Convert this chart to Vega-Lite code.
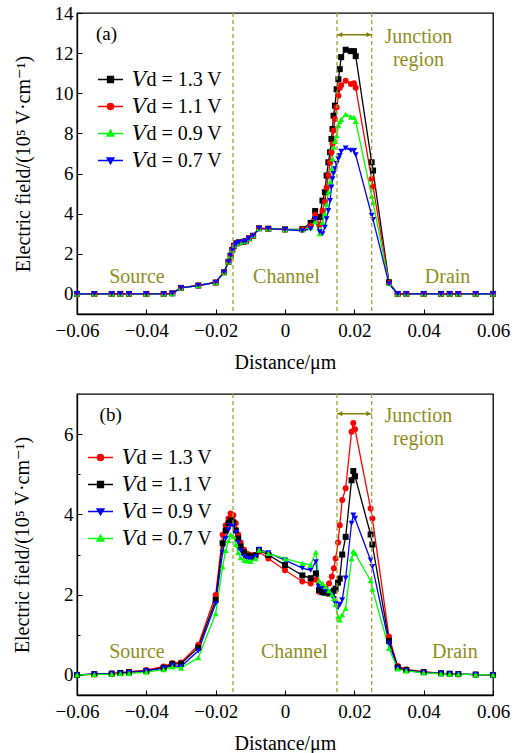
{
  "$schema": "https://vega.github.io/schema/vega-lite/v6.json",
  "padding": {"left": 11, "top": 3, "right": 3, "bottom": 3},
  "background": "white",
  "config": {
    "font": "Liberation Serif, DejaVu Serif, serif",
    "view": {"stroke": "black", "strokeWidth": 1.3},
    "axis": {"grid": false, "domainColor": "black", "domainWidth": 1.3, "tickColor": "black", "tickWidth": 1, "labelColor": "black", "titleColor": "black", "labelFont": "Liberation Serif, DejaVu Serif, serif", "titleFont": "Liberation Serif, DejaVu Serif, serif", "labelFontSize": 19, "titleFontSize": 20, "titleFontWeight": "normal", "labelOverlap": false, "labelFlush": false},
    "legend": {"labelFont": "Liberation Serif, DejaVu Serif, serif", "labelFontSize": 20, "labelColor": "black", "padding": 0, "rowPadding": 3, "labelOffset": 8, "symbolSize": 625, "symbolStrokeWidth": 1.3, "symbolOpacity": 1, "orient": "none"},
    "text": {"font": "Liberation Serif, DejaVu Serif, serif"}
  },
  "datasets": {
    "a": [
      {"x":-0.06,"y":0,"s":"1.3"},{"x":-0.055,"y":0,"s":"1.3"},{"x":-0.05,"y":0,"s":"1.3"},{"x":-0.0475,"y":0,"s":"1.3"},{"x":-0.045,"y":0,"s":"1.3"},{"x":-0.04,"y":0,"s":"1.3"},{"x":-0.035,"y":0,"s":"1.3"},{"x":-0.0325,"y":0.03,"s":"1.3"},{"x":-0.03,"y":0.3,"s":"1.3"},{"x":-0.025,"y":0.42,"s":"1.3"},{"x":-0.02,"y":0.57,"s":"1.3"},{"x":-0.0176,"y":1.08,"s":"1.3"},{"x":-0.0163,"y":1.6,"s":"1.3"},{"x":-0.0157,"y":1.91,"s":"1.3"},{"x":-0.0152,"y":2.2,"s":"1.3"},{"x":-0.0147,"y":2.4,"s":"1.3"},{"x":-0.014,"y":2.52,"s":"1.3"},{"x":-0.0133,"y":2.57,"s":"1.3"},{"x":-0.012,"y":2.6,"s":"1.3"},{"x":-0.0113,"y":2.63,"s":"1.3"},{"x":-0.0104,"y":2.77,"s":"1.3"},{"x":-0.0092,"y":2.9,"s":"1.3"},{"x":-0.0075,"y":3.27,"s":"1.3"},{"x":-0.0048,"y":3.25,"s":"1.3"},{"x":0,"y":3.22,"s":"1.3"},
      {"x":0.005,"y":3.23,"s":"1.3"},{"x":0.0074,"y":3.54,"s":"1.3"},{"x":0.0087,"y":4.13,"s":"1.3"},{"x":0.01,"y":3.83,"s":"1.3"},{"x":0.0108,"y":4.65,"s":"1.3"},{"x":0.0115,"y":5.07,"s":"1.3"},{"x":0.012,"y":5.9,"s":"1.3"},{"x":0.0125,"y":6.56,"s":"1.3"},{"x":0.013,"y":7.06,"s":"1.3"},{"x":0.0134,"y":7.72,"s":"1.3"},{"x":0.0137,"y":8.22,"s":"1.3"},{"x":0.014,"y":8.88,"s":"1.3"},{"x":0.0144,"y":9.38,"s":"1.3"},{"x":0.0149,"y":10.2,"s":"1.3"},{"x":0.0154,"y":10.7,"s":"1.3"},{"x":0.0158,"y":11.2,"s":"1.3"},{"x":0.0162,"y":11.8,"s":"1.3"},{"x":0.0175,"y":12.17,"s":"1.3"},{"x":0.019,"y":12.1,"s":"1.3"},{"x":0.0199,"y":12.1,"s":"1.3"},{"x":0.0204,"y":11.85,"s":"1.3"},{"x":0.025,"y":6.56,"s":"1.3"},{"x":0.0254,"y":6.15,"s":"1.3"},{"x":0.03,"y":0.58,"s":"1.3"},
      {"x":0.0325,"y":0,"s":"1.3"},{"x":0.035,"y":0,"s":"1.3"},{"x":0.04,"y":0,"s":"1.3"},{"x":0.045,"y":0,"s":"1.3"},{"x":0.0475,"y":0,"s":"1.3"},{"x":0.05,"y":0,"s":"1.3"},{"x":0.055,"y":0,"s":"1.3"},{"x":0.06,"y":0,"s":"1.3"},

      {"x":-0.06,"y":0,"s":"1.1"},{"x":-0.055,"y":0,"s":"1.1"},{"x":-0.05,"y":0,"s":"1.1"},{"x":-0.0475,"y":0,"s":"1.1"},{"x":-0.045,"y":0,"s":"1.1"},{"x":-0.04,"y":0,"s":"1.1"},{"x":-0.035,"y":0,"s":"1.1"},{"x":-0.0325,"y":0.03,"s":"1.1"},{"x":-0.03,"y":0.3,"s":"1.1"},{"x":-0.025,"y":0.42,"s":"1.1"},{"x":-0.02,"y":0.57,"s":"1.1"},{"x":-0.0176,"y":1.08,"s":"1.1"},{"x":-0.0163,"y":1.6,"s":"1.1"},{"x":-0.0157,"y":1.91,"s":"1.1"},{"x":-0.0152,"y":2.2,"s":"1.1"},{"x":-0.0147,"y":2.4,"s":"1.1"},{"x":-0.014,"y":2.52,"s":"1.1"},{"x":-0.0133,"y":2.57,"s":"1.1"},{"x":-0.012,"y":2.6,"s":"1.1"},{"x":-0.0113,"y":2.63,"s":"1.1"},{"x":-0.0104,"y":2.77,"s":"1.1"},{"x":-0.0092,"y":2.9,"s":"1.1"},{"x":-0.0075,"y":3.27,"s":"1.1"},{"x":-0.0048,"y":3.25,"s":"1.1"},{"x":0,"y":3.2,"s":"1.1"},
      {"x":0.005,"y":3.2,"s":"1.1"},{"x":0.0074,"y":3.4,"s":"1.1"},{"x":0.0087,"y":3.94,"s":"1.1"},{"x":0.01,"y":3.45,"s":"1.1"},{"x":0.0108,"y":4.15,"s":"1.1"},{"x":0.0115,"y":4.6,"s":"1.1"},{"x":0.012,"y":5.3,"s":"1.1"},{"x":0.0125,"y":5.9,"s":"1.1"},{"x":0.013,"y":6.56,"s":"1.1"},{"x":0.0134,"y":7.06,"s":"1.1"},{"x":0.0137,"y":7.47,"s":"1.1"},{"x":0.014,"y":8.14,"s":"1.1"},{"x":0.0144,"y":8.72,"s":"1.1"},{"x":0.0149,"y":9.3,"s":"1.1"},{"x":0.0154,"y":9.88,"s":"1.1"},{"x":0.0158,"y":10.26,"s":"1.1"},{"x":0.0162,"y":10.4,"s":"1.1"},{"x":0.0175,"y":10.62,"s":"1.1"},{"x":0.019,"y":10.46,"s":"1.1"},{"x":0.0199,"y":10.5,"s":"1.1"},{"x":0.0204,"y":10.27,"s":"1.1"},{"x":0.025,"y":5.73,"s":"1.1"},{"x":0.0254,"y":5.35,"s":"1.1"},{"x":0.03,"y":0.55,"s":"1.1"},
      {"x":0.0325,"y":0,"s":"1.1"},{"x":0.035,"y":0,"s":"1.1"},{"x":0.04,"y":0,"s":"1.1"},{"x":0.045,"y":0,"s":"1.1"},{"x":0.0475,"y":0,"s":"1.1"},{"x":0.05,"y":0,"s":"1.1"},{"x":0.055,"y":0,"s":"1.1"},{"x":0.06,"y":0,"s":"1.1"},

      {"x":-0.06,"y":0,"s":"0.9"},{"x":-0.055,"y":0,"s":"0.9"},{"x":-0.05,"y":0,"s":"0.9"},{"x":-0.0475,"y":0,"s":"0.9"},{"x":-0.045,"y":0,"s":"0.9"},{"x":-0.04,"y":0,"s":"0.9"},{"x":-0.035,"y":0,"s":"0.9"},{"x":-0.0325,"y":0.03,"s":"0.9"},{"x":-0.03,"y":0.3,"s":"0.9"},{"x":-0.025,"y":0.42,"s":"0.9"},{"x":-0.02,"y":0.57,"s":"0.9"},{"x":-0.0176,"y":1.08,"s":"0.9"},{"x":-0.0163,"y":1.6,"s":"0.9"},{"x":-0.0157,"y":1.91,"s":"0.9"},{"x":-0.0152,"y":2.2,"s":"0.9"},{"x":-0.0147,"y":2.4,"s":"0.9"},{"x":-0.014,"y":2.52,"s":"0.9"},{"x":-0.0133,"y":2.57,"s":"0.9"},{"x":-0.012,"y":2.6,"s":"0.9"},{"x":-0.0113,"y":2.63,"s":"0.9"},{"x":-0.0104,"y":2.77,"s":"0.9"},{"x":-0.0092,"y":2.9,"s":"0.9"},{"x":-0.0075,"y":3.27,"s":"0.9"},{"x":-0.0048,"y":3.25,"s":"0.9"},{"x":0,"y":3.2,"s":"0.9"},
      {"x":0.005,"y":3.2,"s":"0.9"},{"x":0.0074,"y":3.3,"s":"0.9"},{"x":0.0087,"y":3.6,"s":"0.9"},{"x":0.01,"y":3.0,"s":"0.9"},{"x":0.0108,"y":3.57,"s":"0.9"},{"x":0.0115,"y":3.99,"s":"0.9"},{"x":0.012,"y":4.48,"s":"0.9"},{"x":0.0125,"y":5.07,"s":"0.9"},{"x":0.013,"y":5.57,"s":"0.9"},{"x":0.0134,"y":6.23,"s":"0.9"},{"x":0.0137,"y":6.73,"s":"0.9"},{"x":0.014,"y":7.31,"s":"0.9"},{"x":0.0144,"y":7.6,"s":"0.9"},{"x":0.0149,"y":7.89,"s":"0.9"},{"x":0.0154,"y":8.39,"s":"0.9"},{"x":0.0158,"y":8.59,"s":"0.9"},{"x":0.0162,"y":8.7,"s":"0.9"},{"x":0.0175,"y":8.95,"s":"0.9"},{"x":0.019,"y":8.82,"s":"0.9"},{"x":0.0199,"y":8.8,"s":"0.9"},{"x":0.0204,"y":8.6,"s":"0.9"},{"x":0.025,"y":4.87,"s":"0.9"},{"x":0.0254,"y":4.57,"s":"0.9"},{"x":0.03,"y":0.52,"s":"0.9"},
      {"x":0.0325,"y":0,"s":"0.9"},{"x":0.035,"y":0,"s":"0.9"},{"x":0.04,"y":0,"s":"0.9"},{"x":0.045,"y":0,"s":"0.9"},{"x":0.0475,"y":0,"s":"0.9"},{"x":0.05,"y":0,"s":"0.9"},{"x":0.055,"y":0,"s":"0.9"},{"x":0.06,"y":0,"s":"0.9"},

      {"x":-0.06,"y":0,"s":"0.7"},{"x":-0.055,"y":0,"s":"0.7"},{"x":-0.05,"y":0,"s":"0.7"},{"x":-0.0475,"y":0,"s":"0.7"},{"x":-0.045,"y":0,"s":"0.7"},{"x":-0.04,"y":0,"s":"0.7"},{"x":-0.035,"y":0,"s":"0.7"},{"x":-0.0325,"y":0.03,"s":"0.7"},{"x":-0.03,"y":0.3,"s":"0.7"},{"x":-0.025,"y":0.42,"s":"0.7"},{"x":-0.02,"y":0.57,"s":"0.7"},{"x":-0.0176,"y":1.08,"s":"0.7"},{"x":-0.0163,"y":1.6,"s":"0.7"},{"x":-0.0157,"y":1.91,"s":"0.7"},{"x":-0.0152,"y":2.2,"s":"0.7"},{"x":-0.0147,"y":2.4,"s":"0.7"},{"x":-0.014,"y":2.52,"s":"0.7"},{"x":-0.0133,"y":2.57,"s":"0.7"},{"x":-0.012,"y":2.6,"s":"0.7"},{"x":-0.0113,"y":2.63,"s":"0.7"},{"x":-0.0104,"y":2.77,"s":"0.7"},{"x":-0.0092,"y":2.9,"s":"0.7"},{"x":-0.0075,"y":3.27,"s":"0.7"},{"x":-0.0048,"y":3.25,"s":"0.7"},{"x":0,"y":3.2,"s":"0.7"},
      {"x":0.005,"y":3.15,"s":"0.7"},{"x":0.0074,"y":3.24,"s":"0.7"},{"x":0.0087,"y":3.74,"s":"0.7"},{"x":0.01,"y":3.1,"s":"0.7"},{"x":0.0108,"y":3.0,"s":"0.7"},{"x":0.0115,"y":3.32,"s":"0.7"},{"x":0.012,"y":3.74,"s":"0.7"},{"x":0.0125,"y":4.15,"s":"0.7"},{"x":0.013,"y":4.65,"s":"0.7"},{"x":0.0134,"y":5.32,"s":"0.7"},{"x":0.0137,"y":5.73,"s":"0.7"},{"x":0.014,"y":6.0,"s":"0.7"},{"x":0.0144,"y":6.23,"s":"0.7"},{"x":0.0149,"y":6.5,"s":"0.7"},{"x":0.0154,"y":6.73,"s":"0.7"},{"x":0.0158,"y":6.89,"s":"0.7"},{"x":0.0162,"y":7.1,"s":"0.7"},{"x":0.0175,"y":7.27,"s":"0.7"},{"x":0.019,"y":7.15,"s":"0.7"},{"x":0.0199,"y":7.14,"s":"0.7"},{"x":0.0204,"y":6.93,"s":"0.7"},{"x":0.025,"y":3.92,"s":"0.7"},{"x":0.0254,"y":3.7,"s":"0.7"},{"x":0.03,"y":0.5,"s":"0.7"},
      {"x":0.0325,"y":0,"s":"0.7"},{"x":0.035,"y":0,"s":"0.7"},{"x":0.04,"y":0,"s":"0.7"},{"x":0.045,"y":0,"s":"0.7"},{"x":0.0475,"y":0,"s":"0.7"},{"x":0.05,"y":0,"s":"0.7"},{"x":0.055,"y":0,"s":"0.7"},{"x":0.06,"y":0,"s":"0.7"}
    ],
    "b": [
      {"x":-0.06,"y":0,"s":"1.3"},{"x":-0.055,"y":0.02,"s":"1.3"},{"x":-0.05,"y":0.04,"s":"1.3"},{"x":-0.0475,"y":0.05,"s":"1.3"},{"x":-0.045,"y":0.08,"s":"1.3"},{"x":-0.04,"y":0.12,"s":"1.3"},{"x":-0.035,"y":0.21,"s":"1.3"},{"x":-0.0325,"y":0.3,"s":"1.3"},{"x":-0.03,"y":0.31,"s":"1.3"},{"x":-0.025,"y":0.75,"s":"1.3"},{"x":-0.02,"y":1.99,"s":"1.3"},{"x":-0.018,"y":3.49,"s":"1.3"},{"x":-0.0171,"y":3.73,"s":"1.3"},{"x":-0.0163,"y":3.9,"s":"1.3"},{"x":-0.0157,"y":4.02,"s":"1.3"},{"x":-0.0149,"y":3.98,"s":"1.3"},{"x":-0.0142,"y":3.78,"s":"1.3"},{"x":-0.0135,"y":3.5,"s":"1.3"},{"x":-0.0128,"y":3.3,"s":"1.3"},{"x":-0.0118,"y":3.12,"s":"1.3"},{"x":-0.0109,"y":3.02,"s":"1.3"},{"x":-0.0099,"y":2.99,"s":"1.3"},{"x":-0.0085,"y":2.99,"s":"1.3"},{"x":-0.0075,"y":3.07,"s":"1.3"},{"x":-0.0048,"y":2.9,"s":"1.3"},{"x":0,"y":2.61,"s":"1.3"},{"x":0.005,"y":2.33,"s":"1.3"},{"x":0.0074,"y":2.28,"s":"1.3"},{"x":0.0089,"y":2.37,"s":"1.3"},{"x":0.0098,"y":2.07,"s":"1.3"},{"x":0.0108,"y":2.06,"s":"1.3"},{"x":0.0117,"y":2.1,"s":"1.3"},{"x":0.0127,"y":2.28,"s":"1.3"},{"x":0.0135,"y":2.45,"s":"1.3"},{"x":0.0141,"y":2.66,"s":"1.3"},{"x":0.0146,"y":2.9,"s":"1.3"},{"x":0.0153,"y":3.3,"s":"1.3"},{"x":0.0158,"y":3.73,"s":"1.3"},{"x":0.0165,"y":4.36,"s":"1.3"},{"x":0.0175,"y":4.65,"s":"1.3"},{"x":0.0192,"y":6.06,"s":"1.3"},{"x":0.0197,"y":6.28,"s":"1.3"},{"x":0.0202,"y":6.12,"s":"1.3"},{"x":0.0247,"y":4.15,"s":"1.3"},{"x":0.0252,"y":3.9,"s":"1.3"},{"x":0.03,"y":0.95,"s":"1.3"},{"x":0.0325,"y":0.22,"s":"1.3"},{"x":0.035,"y":0.14,"s":"1.3"},{"x":0.04,"y":0.08,"s":"1.3"},{"x":0.045,"y":0.04,"s":"1.3"},{"x":0.0475,"y":0.03,"s":"1.3"},{"x":0.05,"y":0.02,"s":"1.3"},{"x":0.055,"y":0.01,"s":"1.3"},{"x":0.06,"y":0,"s":"1.3"},

      {"x":-0.06,"y":0,"s":"1.1"},{"x":-0.055,"y":0.02,"s":"1.1"},{"x":-0.05,"y":0.03,"s":"1.1"},{"x":-0.0475,"y":0.05,"s":"1.1"},{"x":-0.045,"y":0.07,"s":"1.1"},{"x":-0.04,"y":0.1,"s":"1.1"},{"x":-0.035,"y":0.18,"s":"1.1"},{"x":-0.0325,"y":0.27,"s":"1.1"},{"x":-0.03,"y":0.28,"s":"1.1"},{"x":-0.025,"y":0.68,"s":"1.1"},{"x":-0.02,"y":1.87,"s":"1.1"},{"x":-0.018,"y":3.28,"s":"1.1"},{"x":-0.0171,"y":3.6,"s":"1.1"},{"x":-0.0163,"y":3.78,"s":"1.1"},{"x":-0.0157,"y":3.85,"s":"1.1"},{"x":-0.0149,"y":3.8,"s":"1.1"},{"x":-0.0142,"y":3.6,"s":"1.1"},{"x":-0.0135,"y":3.4,"s":"1.1"},{"x":-0.0128,"y":3.2,"s":"1.1"},{"x":-0.0118,"y":3.05,"s":"1.1"},{"x":-0.0109,"y":2.97,"s":"1.1"},{"x":-0.0099,"y":2.95,"s":"1.1"},{"x":-0.0085,"y":2.98,"s":"1.1"},{"x":-0.0075,"y":3.11,"s":"1.1"},{"x":-0.0048,"y":2.99,"s":"1.1"},{"x":0,"y":2.74,"s":"1.1"},{"x":0.005,"y":2.48,"s":"1.1"},{"x":0.0074,"y":2.41,"s":"1.1"},{"x":0.0089,"y":2.53,"s":"1.1"},{"x":0.0098,"y":2.12,"s":"1.1"},{"x":0.0108,"y":2.06,"s":"1.1"},{"x":0.0117,"y":2.05,"s":"1.1"},{"x":0.0127,"y":2.03,"s":"1.1"},{"x":0.0135,"y":2.04,"s":"1.1"},{"x":0.0141,"y":2.1,"s":"1.1"},{"x":0.0146,"y":2.15,"s":"1.1"},{"x":0.0153,"y":2.3,"s":"1.1"},{"x":0.0158,"y":2.4,"s":"1.1"},{"x":0.0165,"y":3.0,"s":"1.1"},{"x":0.0175,"y":3.44,"s":"1.1"},{"x":0.0192,"y":4.85,"s":"1.1"},{"x":0.0197,"y":5.08,"s":"1.1"},{"x":0.0202,"y":4.95,"s":"1.1"},{"x":0.0247,"y":3.5,"s":"1.1"},{"x":0.0252,"y":3.25,"s":"1.1"},{"x":0.03,"y":0.85,"s":"1.1"},{"x":0.0325,"y":0.19,"s":"1.1"},{"x":0.035,"y":0.12,"s":"1.1"},{"x":0.04,"y":0.07,"s":"1.1"},{"x":0.045,"y":0.04,"s":"1.1"},{"x":0.0475,"y":0.03,"s":"1.1"},{"x":0.05,"y":0.02,"s":"1.1"},{"x":0.055,"y":0.01,"s":"1.1"},{"x":0.06,"y":0,"s":"1.1"},

      {"x":-0.06,"y":0,"s":"0.9"},{"x":-0.055,"y":0.02,"s":"0.9"},{"x":-0.05,"y":0.03,"s":"0.9"},{"x":-0.0475,"y":0.04,"s":"0.9"},{"x":-0.045,"y":0.06,"s":"0.9"},{"x":-0.04,"y":0.1,"s":"0.9"},{"x":-0.035,"y":0.17,"s":"0.9"},{"x":-0.0325,"y":0.23,"s":"0.9"},{"x":-0.03,"y":0.21,"s":"0.9"},{"x":-0.025,"y":0.6,"s":"0.9"},{"x":-0.02,"y":1.78,"s":"0.9"},{"x":-0.018,"y":3.05,"s":"0.9"},{"x":-0.0171,"y":3.4,"s":"0.9"},{"x":-0.0163,"y":3.61,"s":"0.9"},{"x":-0.0157,"y":3.73,"s":"0.9"},{"x":-0.0149,"y":3.72,"s":"0.9"},{"x":-0.0142,"y":3.55,"s":"0.9"},{"x":-0.0135,"y":3.3,"s":"0.9"},{"x":-0.0128,"y":3.1,"s":"0.9"},{"x":-0.0118,"y":2.95,"s":"0.9"},{"x":-0.0109,"y":2.9,"s":"0.9"},{"x":-0.0099,"y":2.9,"s":"0.9"},{"x":-0.0085,"y":2.95,"s":"0.9"},{"x":-0.0075,"y":3.13,"s":"0.9"},{"x":-0.0048,"y":3.04,"s":"0.9"},{"x":0,"y":2.86,"s":"0.9"},{"x":0.005,"y":2.66,"s":"0.9"},{"x":0.0074,"y":2.61,"s":"0.9"},{"x":0.0089,"y":2.82,"s":"0.9"},{"x":0.0098,"y":2.2,"s":"0.9"},{"x":0.0108,"y":2.16,"s":"0.9"},{"x":0.0117,"y":2.12,"s":"0.9"},{"x":0.0127,"y":2.07,"s":"0.9"},{"x":0.0135,"y":1.98,"s":"0.9"},{"x":0.0141,"y":1.9,"s":"0.9"},{"x":0.0146,"y":1.78,"s":"0.9"},{"x":0.0153,"y":1.68,"s":"0.9"},{"x":0.0158,"y":1.75,"s":"0.9"},{"x":0.0165,"y":1.87,"s":"0.9"},{"x":0.0175,"y":2.41,"s":"0.9"},{"x":0.0192,"y":3.78,"s":"0.9"},{"x":0.0197,"y":3.98,"s":"0.9"},{"x":0.0202,"y":3.9,"s":"0.9"},{"x":0.0247,"y":2.86,"s":"0.9"},{"x":0.0252,"y":2.7,"s":"0.9"},{"x":0.03,"y":0.79,"s":"0.9"},{"x":0.0325,"y":0.17,"s":"0.9"},{"x":0.035,"y":0.11,"s":"0.9"},{"x":0.04,"y":0.06,"s":"0.9"},{"x":0.045,"y":0.04,"s":"0.9"},{"x":0.0475,"y":0.03,"s":"0.9"},{"x":0.05,"y":0.02,"s":"0.9"},{"x":0.055,"y":0.01,"s":"0.9"},{"x":0.06,"y":0,"s":"0.9"},

      {"x":-0.06,"y":0,"s":"0.7"},{"x":-0.055,"y":0.01,"s":"0.7"},{"x":-0.05,"y":0.02,"s":"0.7"},{"x":-0.0475,"y":0.03,"s":"0.7"},{"x":-0.045,"y":0.04,"s":"0.7"},{"x":-0.04,"y":0.07,"s":"0.7"},{"x":-0.035,"y":0.13,"s":"0.7"},{"x":-0.0325,"y":0.2,"s":"0.7"},{"x":-0.03,"y":0.17,"s":"0.7"},{"x":-0.025,"y":0.43,"s":"0.7"},{"x":-0.02,"y":1.53,"s":"0.7"},{"x":-0.018,"y":2.7,"s":"0.7"},{"x":-0.0171,"y":3.1,"s":"0.7"},{"x":-0.0163,"y":3.35,"s":"0.7"},{"x":-0.0157,"y":3.5,"s":"0.7"},{"x":-0.0149,"y":3.45,"s":"0.7"},{"x":-0.0142,"y":3.25,"s":"0.7"},{"x":-0.0135,"y":3.05,"s":"0.7"},{"x":-0.0128,"y":2.92,"s":"0.7"},{"x":-0.0118,"y":2.86,"s":"0.7"},{"x":-0.0109,"y":2.84,"s":"0.7"},{"x":-0.0099,"y":2.83,"s":"0.7"},{"x":-0.0085,"y":2.9,"s":"0.7"},{"x":-0.0075,"y":3.11,"s":"0.7"},{"x":-0.0048,"y":3.03,"s":"0.7"},{"x":0,"y":2.9,"s":"0.7"},{"x":0.005,"y":2.78,"s":"0.7"},{"x":0.0074,"y":2.74,"s":"0.7"},{"x":0.0089,"y":3.06,"s":"0.7"},{"x":0.0098,"y":2.35,"s":"0.7"},{"x":0.0108,"y":2.28,"s":"0.7"},{"x":0.0117,"y":2.2,"s":"0.7"},{"x":0.0127,"y":2.1,"s":"0.7"},{"x":0.0135,"y":2.0,"s":"0.7"},{"x":0.0141,"y":1.9,"s":"0.7"},{"x":0.0146,"y":1.75,"s":"0.7"},{"x":0.0153,"y":1.45,"s":"0.7"},{"x":0.0158,"y":1.37,"s":"0.7"},{"x":0.0165,"y":1.5,"s":"0.7"},{"x":0.0175,"y":1.66,"s":"0.7"},{"x":0.0192,"y":2.9,"s":"0.7"},{"x":0.0197,"y":3.08,"s":"0.7"},{"x":0.0202,"y":3.03,"s":"0.7"},{"x":0.0247,"y":2.35,"s":"0.7"},{"x":0.0252,"y":2.14,"s":"0.7"},{"x":0.03,"y":0.66,"s":"0.7"},{"x":0.0325,"y":0.15,"s":"0.7"},{"x":0.035,"y":0.1,"s":"0.7"},{"x":0.04,"y":0.05,"s":"0.7"},{"x":0.045,"y":0.03,"s":"0.7"},{"x":0.0475,"y":0.02,"s":"0.7"},{"x":0.05,"y":0.02,"s":"0.7"},{"x":0.055,"y":0.01,"s":"0.7"},{"x":0.06,"y":0,"s":"0.7"}
    ],
    "bounds": [{"x": -0.015}, {"x": 0.015}, {"x": 0.025}],
    "txtA": [
      {"x": -0.0427, "y": 0.85, "t": "Source"},
      {"x": 0.0004, "y": 0.85, "t": "Channel"},
      {"x": 0.0469, "y": 0.85, "t": "Drain"},
      {"x": 0.0385, "y": 12.8, "t": "Junction"},
      {"x": 0.0385, "y": 11.67, "t": "region"}
    ],
    "txtB": [
      {"x": -0.0427, "y": 0.56, "t": "Source"},
      {"x": 0.0027, "y": 0.56, "t": "Channel"},
      {"x": 0.049, "y": 0.56, "t": "Drain"},
      {"x": 0.0385, "y": 6.45, "t": "Junction"},
      {"x": 0.0385, "y": 5.89, "t": "region"}
    ],
    "one": [{}]
  },
  "spacing": 19,
  "resolve": {"scale": {"color": "independent", "shape": "independent", "stroke": "independent"}, "legend": {"color": "independent", "shape": "independent", "stroke": "independent"}},
  "vconcat": [
    {
      "width": 416,
      "height": 301,
      "layer": [
        {
          "data": {"name": "a"},
          "mark": {"type": "line", "strokeWidth": 1.3},
          "encoding": {
            "x": {"field": "x", "type": "quantitative", "scale": {"domain": [-0.06, 0.06], "nice": false, "zero": false},
              "axis": {"title": "Distance/μm", "values": [-0.06, -0.05, -0.04, -0.03, -0.02, -0.01, 0, 0.01, 0.02, 0.03, 0.04, 0.05, 0.06],
                "labelExpr": "abs(round(datum.value*100)) % 2 === 0 ? (abs(datum.value) < 1e-9 ? '0' : format(datum.value, '.2f')) : ''",
                "tickSize": {"condition": {"test": "abs(round(datum.value*100)) % 2 === 0", "value": -5}, "value": -3},
                "labelFont": "Liberation Serif, DejaVu Serif, serif", "titleFont": "Liberation Serif, DejaVu Serif, serif",
                "labelPadding": 12, "titlePadding": 12}},
            "y": {"field": "y", "type": "quantitative", "scale": {"domain": [-1, 14], "nice": false, "zero": false},
              "axis": {"title": "Electric field/(10⁵ V·cm⁻¹)", "values": [0, 1, 2, 3, 4, 5, 6, 7, 8, 9, 10, 11, 12, 13, 14],
                "labelExpr": "datum.value % 2 === 0 ? datum.label : ''",
                "tickSize": {"condition": {"test": "datum.value % 2 === 0", "value": -5}, "value": -3},
                "labelFont": "Liberation Serif, DejaVu Serif, serif", "titleFont": "Liberation Serif, DejaVu Serif, serif",
                "labelPadding": 9, "titlePadding": 21}},
            "color": {"field": "s", "type": "nominal", "scale": {"domain": ["1.3", "1.1", "0.9", "0.7"], "range": ["#000000", "#ff0000", "#00ff00", "#0000ff"]},
              "legend": {"title": null, "orient": "none", "legendX": 20, "legendY": 53, "labelExpr": "'𝑉d = ' + datum.label + ' V'"}}
          }
        },
        {
          "data": {"name": "a"},
          "transform": [{"filter": "datum.s === '1.3'"}],
          "mark": {"type": "point", "shape": "square", "filled": true, "size": 36, "opacity": 1},
          "encoding": {"x": {"field": "x", "type": "quantitative"}, "y": {"field": "y", "type": "quantitative"},
            "color": {"field": "s", "type": "nominal", "scale": {"domain": ["1.3", "1.1", "0.9", "0.7"], "range": ["#000000", "#ff0000", "#00ff00", "#0000ff"]}}}
        },
        {
          "data": {"name": "a"},
          "transform": [{"filter": "datum.s === '1.1'"}],
          "mark": {"type": "point", "shape": "circle", "filled": true, "size": 36, "opacity": 1},
          "encoding": {"x": {"field": "x", "type": "quantitative"}, "y": {"field": "y", "type": "quantitative"},
            "color": {"field": "s", "type": "nominal", "scale": {"domain": ["1.3", "1.1", "0.9", "0.7"], "range": ["#000000", "#ff0000", "#00ff00", "#0000ff"]}}}
        },
        {
          "data": {"name": "a"},
          "transform": [{"filter": "datum.s === '0.9'"}],
          "mark": {"type": "point", "shape": "triangle-up", "filled": true, "size": 36, "opacity": 1},
          "encoding": {"x": {"field": "x", "type": "quantitative"}, "y": {"field": "y", "type": "quantitative"},
            "color": {"field": "s", "type": "nominal", "scale": {"domain": ["1.3", "1.1", "0.9", "0.7"], "range": ["#000000", "#ff0000", "#00ff00", "#0000ff"]}}}
        },
        {
          "data": {"name": "a"},
          "transform": [{"filter": "datum.s === '0.7'"}],
          "mark": {"type": "point", "shape": "triangle-down", "filled": true, "size": 36, "opacity": 1},
          "encoding": {"x": {"field": "x", "type": "quantitative"}, "y": {"field": "y", "type": "quantitative"},
            "color": {"field": "s", "type": "nominal", "scale": {"domain": ["1.3", "1.1", "0.9", "0.7"], "range": ["#000000", "#ff0000", "#00ff00", "#0000ff"]}}}
        },
        {
          "data": {"name": "a"},
          "transform": [{"filter": "false"}],
          "mark": {"type": "point", "filled": true},
          "encoding": {
            "color": {"field": "s", "type": "nominal", "scale": {"domain": ["1.3", "1.1", "0.9", "0.7"], "range": ["#000000", "#ff0000", "#00ff00", "#0000ff"]}},
            "stroke": {"field": "s", "type": "nominal", "scale": {"domain": ["1.3", "1.1", "0.9", "0.7"], "range": ["#000000", "#ff0000", "#00ff00", "#0000ff"]},
              "legend": {"title": null, "orient": "none", "legendX": 20, "legendY": 53, "labelExpr": "'𝑉d = ' + datum.label + ' V'"}},
            "shape": {"field": "s", "type": "nominal", "scale": {"domain": ["1.3", "1.1", "0.9", "0.7"], "range": ["M-1,0H1M-0.24,-0.24H0.24V0.24H-0.24Z", "M-1,0H1M-0.25,0A0.25,0.25,0,1,0,0.25,0A0.25,0.25,0,1,0,-0.25,0Z", "M-1,0H1M0,-0.28L0.28,0.2L-0.28,0.2Z", "M-1,0H1M0,0.28L0.28,-0.2L-0.28,-0.2Z"]},
              "legend": {"title": null, "orient": "none", "legendX": 20, "legendY": 53, "labelExpr": "'𝑉d = ' + datum.label + ' V'"}}
          }
        },
        {
          "data": {"name": "bounds"},
          "mark": {"type": "rule", "strokeDash": [4, 3], "color": "#a0a03c", "strokeWidth": 1.3},
          "encoding": {"x": {"field": "x", "type": "quantitative"}}
        },
        {
          "data": {"name": "txtA"},
          "mark": {"type": "text", "fontSize": 20, "color": "#8e8e1c", "baseline": "middle", "align": "center"},
          "encoding": {
            "x": {"field": "x", "type": "quantitative"},
            "y": {"field": "y", "type": "quantitative"},
            "text": {"field": "t"}
          }
        },
        {
          "data": {"name": "one"},
          "mark": {"type": "text", "fontSize": 19, "color": "black", "baseline": "middle", "align": "center"},
          "encoding": {"x": {"datum": -0.0515}, "y": {"datum": 12.93}, "text": {"value": "(a)"}}
        },
        {
          "data": {"name": "one"},
          "mark": {"type": "rule", "color": "#808000", "strokeWidth": 1.5},
          "encoding": {"x": {"datum": 0.015}, "x2": {"datum": 0.025}, "y": {"datum": 12.92}}
        },
        {
          "data": {"name": "one"},
          "mark": {"type": "point", "shape": "triangle-left", "filled": true, "size": 28, "color": "#808000", "opacity": 1},
          "encoding": {"x": {"datum": 0.015}, "y": {"datum": 12.92}, "xOffset": {"value": 3}}
        },
        {
          "data": {"name": "one"},
          "mark": {"type": "point", "shape": "triangle-right", "filled": true, "size": 28, "color": "#808000", "opacity": 1},
          "encoding": {"x": {"datum": 0.025}, "y": {"datum": 12.92}, "xOffset": {"value": -3}}
        }
      ]
    },
    {
      "width": 416,
      "height": 301,
      "layer": [
        {
          "data": {"name": "b"},
          "mark": {"type": "line", "strokeWidth": 1.3},
          "encoding": {
            "x": {"field": "x", "type": "quantitative", "scale": {"domain": [-0.06, 0.06], "nice": false, "zero": false},
              "axis": {"title": "Distance/μm", "values": [-0.06, -0.05, -0.04, -0.03, -0.02, -0.01, 0, 0.01, 0.02, 0.03, 0.04, 0.05, 0.06],
                "labelExpr": "abs(round(datum.value*100)) % 2 === 0 ? (abs(datum.value) < 1e-9 ? '0' : format(datum.value, '.2f')) : ''",
                "tickSize": {"condition": {"test": "abs(round(datum.value*100)) % 2 === 0", "value": -5}, "value": -3},
                "labelFont": "Liberation Serif, DejaVu Serif, serif", "titleFont": "Liberation Serif, DejaVu Serif, serif",
                "labelPadding": 12, "titlePadding": 12}},
            "y": {"field": "y", "type": "quantitative", "scale": {"domain": [-0.5, 7], "nice": false, "zero": false},
              "axis": {"title": "Electric field/(10⁵ V·cm⁻¹)", "values": [0, 1, 2, 3, 4, 5, 6],
                "labelExpr": "datum.value % 2 === 0 ? datum.label : ''",
                "tickSize": {"condition": {"test": "datum.value % 2 === 0", "value": -5}, "value": -3},
                "labelFont": "Liberation Serif, DejaVu Serif, serif", "titleFont": "Liberation Serif, DejaVu Serif, serif",
                "labelPadding": 9, "titlePadding": 31}},
            "color": {"field": "s", "type": "nominal", "scale": {"domain": ["1.3", "1.1", "0.9", "0.7"], "range": ["#ff0000", "#000000", "#0000ff", "#00ff00"]},
              "legend": {"title": null, "orient": "none", "legendX": 10, "legendY": 50, "labelExpr": "'𝑉d = ' + datum.label + ' V'"}}
          }
        },
        {
          "data": {"name": "b"},
          "transform": [{"filter": "datum.s === '1.3'"}],
          "mark": {"type": "point", "shape": "circle", "filled": true, "size": 36, "opacity": 1},
          "encoding": {"x": {"field": "x", "type": "quantitative"}, "y": {"field": "y", "type": "quantitative"},
            "color": {"field": "s", "type": "nominal", "scale": {"domain": ["1.3", "1.1", "0.9", "0.7"], "range": ["#ff0000", "#000000", "#0000ff", "#00ff00"]}}}
        },
        {
          "data": {"name": "b"},
          "transform": [{"filter": "datum.s === '1.1'"}],
          "mark": {"type": "point", "shape": "square", "filled": true, "size": 36, "opacity": 1},
          "encoding": {"x": {"field": "x", "type": "quantitative"}, "y": {"field": "y", "type": "quantitative"},
            "color": {"field": "s", "type": "nominal", "scale": {"domain": ["1.3", "1.1", "0.9", "0.7"], "range": ["#ff0000", "#000000", "#0000ff", "#00ff00"]}}}
        },
        {
          "data": {"name": "b"},
          "transform": [{"filter": "datum.s === '0.9'"}],
          "mark": {"type": "point", "shape": "triangle-down", "filled": true, "size": 36, "opacity": 1},
          "encoding": {"x": {"field": "x", "type": "quantitative"}, "y": {"field": "y", "type": "quantitative"},
            "color": {"field": "s", "type": "nominal", "scale": {"domain": ["1.3", "1.1", "0.9", "0.7"], "range": ["#ff0000", "#000000", "#0000ff", "#00ff00"]}}}
        },
        {
          "data": {"name": "b"},
          "transform": [{"filter": "datum.s === '0.7'"}],
          "mark": {"type": "point", "shape": "triangle-up", "filled": true, "size": 36, "opacity": 1},
          "encoding": {"x": {"field": "x", "type": "quantitative"}, "y": {"field": "y", "type": "quantitative"},
            "color": {"field": "s", "type": "nominal", "scale": {"domain": ["1.3", "1.1", "0.9", "0.7"], "range": ["#ff0000", "#000000", "#0000ff", "#00ff00"]}}}
        },
        {
          "data": {"name": "b"},
          "transform": [{"filter": "false"}],
          "mark": {"type": "point", "filled": true},
          "encoding": {
            "color": {"field": "s", "type": "nominal", "scale": {"domain": ["1.3", "1.1", "0.9", "0.7"], "range": ["#ff0000", "#000000", "#0000ff", "#00ff00"]}},
            "stroke": {"field": "s", "type": "nominal", "scale": {"domain": ["1.3", "1.1", "0.9", "0.7"], "range": ["#ff0000", "#000000", "#0000ff", "#00ff00"]},
              "legend": {"title": null, "orient": "none", "legendX": 10, "legendY": 50, "labelExpr": "'𝑉d = ' + datum.label + ' V'"}},
            "shape": {"field": "s", "type": "nominal", "scale": {"domain": ["1.3", "1.1", "0.9", "0.7"], "range": ["M-1,0H1M-0.25,0A0.25,0.25,0,1,0,0.25,0A0.25,0.25,0,1,0,-0.25,0Z", "M-1,0H1M-0.24,-0.24H0.24V0.24H-0.24Z", "M-1,0H1M0,0.28L0.28,-0.2L-0.28,-0.2Z", "M-1,0H1M0,-0.28L0.28,0.2L-0.28,0.2Z"]},
              "legend": {"title": null, "orient": "none", "legendX": 10, "legendY": 50, "labelExpr": "'𝑉d = ' + datum.label + ' V'"}}
          }
        },
        {
          "data": {"name": "bounds"},
          "mark": {"type": "rule", "strokeDash": [4, 3], "color": "#a0a03c", "strokeWidth": 1.3},
          "encoding": {"x": {"field": "x", "type": "quantitative"}}
        },
        {
          "data": {"name": "txtB"},
          "mark": {"type": "text", "fontSize": 20, "color": "#8e8e1c", "baseline": "middle", "align": "center"},
          "encoding": {
            "x": {"field": "x", "type": "quantitative"},
            "y": {"field": "y", "type": "quantitative"},
            "text": {"field": "t"}
          }
        },
        {
          "data": {"name": "one"},
          "mark": {"type": "text", "fontSize": 19, "color": "black", "baseline": "middle", "align": "center"},
          "encoding": {"x": {"datum": -0.0503}, "y": {"datum": 6.47}, "text": {"value": "(b)"}}
        },
        {
          "data": {"name": "one"},
          "mark": {"type": "rule", "color": "#808000", "strokeWidth": 1.5},
          "encoding": {"x": {"datum": 0.015}, "x2": {"datum": 0.025}, "y": {"datum": 6.51}}
        },
        {
          "data": {"name": "one"},
          "mark": {"type": "point", "shape": "triangle-left", "filled": true, "size": 28, "color": "#808000", "opacity": 1},
          "encoding": {"x": {"datum": 0.015}, "y": {"datum": 6.51}, "xOffset": {"value": 3}}
        },
        {
          "data": {"name": "one"},
          "mark": {"type": "point", "shape": "triangle-right", "filled": true, "size": 28, "color": "#808000", "opacity": 1},
          "encoding": {"x": {"datum": 0.025}, "y": {"datum": 6.51}, "xOffset": {"value": -3}}
        }
      ]
    }
  ]
}
